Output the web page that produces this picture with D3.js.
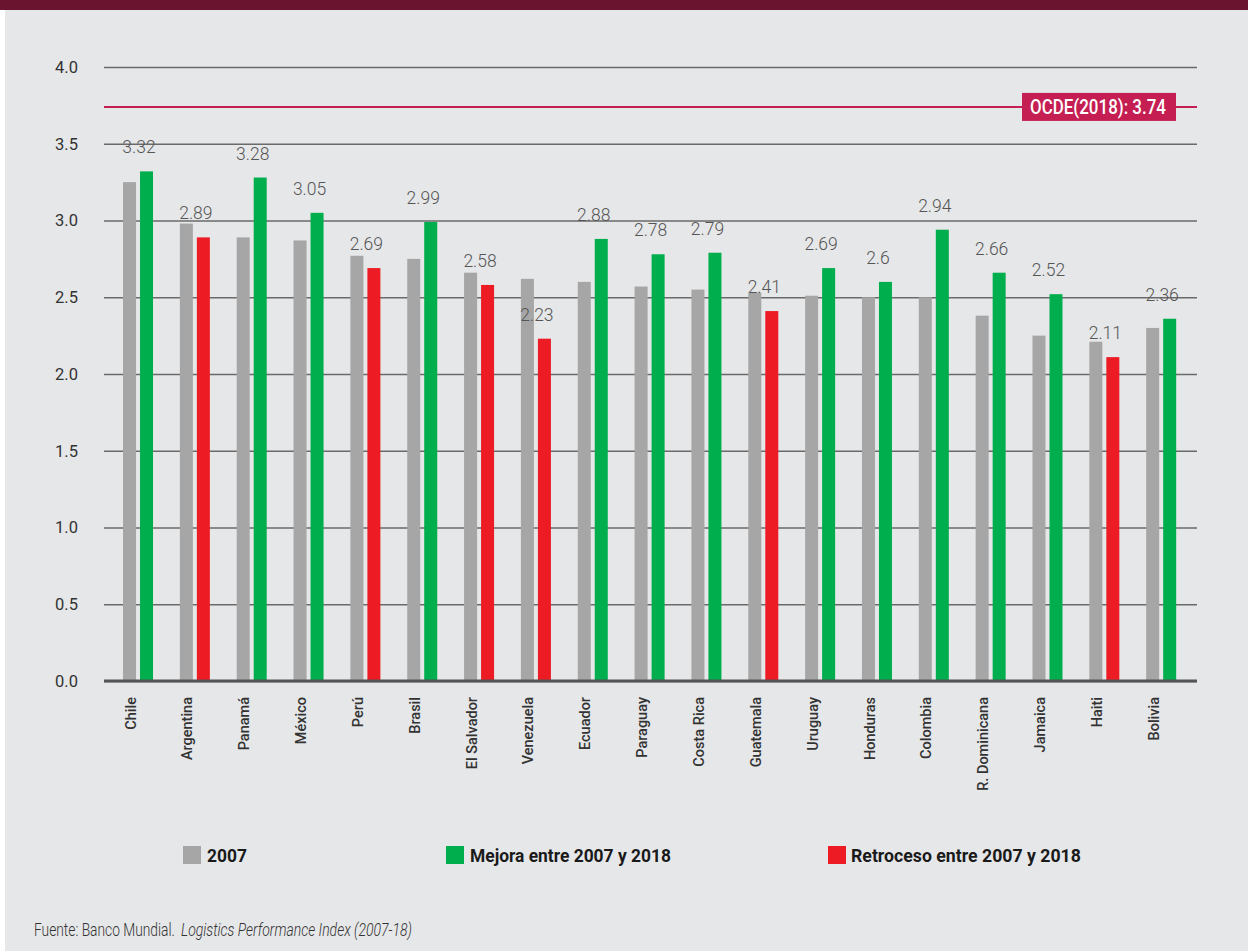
<!DOCTYPE html>
<html>
<head>
<meta charset="utf-8">
<script src="https://cdn.jsdelivr.net/npm/d3@7"></script>
<style>
  html, body { margin: 0; padding: 0; background: #ffffff; }
  svg { display: block; }
</style>
</head>
<body>
<svg id="chart" width="1248" height="951"></svg>
<script>
const countries = ["Chile", "Argentina", "Panamá", "México", "Perú", "Brasil", "El Salvador", "Venezuela", "Ecuador", "Paraguay", "Costa Rica", "Guatemala", "Uruguay", "Honduras", "Colombia", "R. Dominicana", "Jamaica", "Haiti", "Bolivia"];
const values2007 = [3.25, 2.98, 2.89, 2.87, 2.77, 2.75, 2.66, 2.62, 2.60, 2.57, 2.55, 2.53, 2.51, 2.50, 2.50, 2.38, 2.25, 2.21, 2.30];
const values2018 = [3.32, 2.89, 3.28, 3.05, 2.69, 2.99, 2.58, 2.23, 2.88, 2.78, 2.79, 2.41, 2.69, 2.6, 2.94, 2.66, 2.52, 2.11, 2.36];
const yTicks = [0, 0.5, 1.0, 1.5, 2.0, 2.5, 3.0, 3.5, 4.0];
const ocdeValue = 3.74;
const ocdeLabel = "OCDE(2018): 3.74";
const legendLabels = ["2007", "Mejora entre 2007 y 2018", "Retroceso entre 2007 y 2018"];
const sourcePlain = "Fuente: Banco Mundial.";
const sourceItalic = "Logistics Performance Index (2007-18)";

const C_BG = "#e6e7e9", C_TOP = "#6b1430", C_GRAY = "#a6a6a6", C_GREEN = "#00ae4d", C_RED = "#ed1c24", C_OCDE = "#c41e52";

const svg = d3.select("#chart");
svg.append("rect").attr("x", 5).attr("y", 0).attr("width", 1243).attr("height", 951).attr("fill", C_BG);
svg.append("rect").attr("x", 0).attr("y", 0).attr("width", 1248).attr("height", 10).attr("fill", C_TOP);

// condensed text helper: squeezes a text horizontally to a target width
function squeezed(parent, str, x0, y0, width, style) {
  const t = parent.append("text").attr("x", 0).attr("y", 0).text(str);
  Object.entries(style).forEach(([k, v]) => t.style(k, v));
  const natural = t.node().getComputedTextLength();
  const s = Math.min(1, width / natural);
  t.attr("transform", `translate(${x0},${y0}) scale(${s},1)`);
  return t;
}

const gridLeft = 104, gridRight = 1197;
const y = d3.scaleLinear().domain([0, 4]).range([681, 67]);
const x = d3.scaleBand().domain(countries).range([109.6, 1189.6]).paddingInner(0).paddingOuter(0);
const bw = x.bandwidth();
const center = c => x(c) + bw / 2;

// Y axis with gridlines
const yAxis = svg.append("g").attr("transform", `translate(${gridLeft},0)`)
  .call(d3.axisLeft(y).tickValues(yTicks).tickFormat(d3.format(".1f"))
    .tickSize(-(gridRight - gridLeft)).tickPadding(26));
yAxis.select(".domain").remove();
yAxis.selectAll(".tick line").attr("stroke", "#6a6a6a").attr("stroke-width", 1.5);
yAxis.selectAll(".tick text").attr("fill", "#333").style("font-family", "Roboto, sans-serif")
  .style("font-size", "16.5px").style("font-weight", 400);

// OCDE line
svg.append("line").attr("x1", gridLeft).attr("x2", gridRight)
  .attr("y1", y(ocdeValue)).attr("y2", y(ocdeValue))
  .attr("stroke", C_OCDE).attr("stroke-width", 2);

// Bars
const data = countries.map((c, i) => ({ c, a: values2007[i], b: values2018[i] }));
const gBars = svg.append("g");
gBars.selectAll("rect.g07").data(data).join("rect").attr("class", "g07")
  .attr("x", d => center(d.c) - 15).attr("width", 13)
  .attr("y", d => y(d.a)).attr("height", d => y(0) - y(d.a))
  .attr("fill", C_GRAY);
gBars.selectAll("rect.g18").data(data).join("rect").attr("class", "g18")
  .attr("x", d => center(d.c) + 2).attr("width", 13)
  .attr("y", d => y(d.b)).attr("height", d => y(0) - y(d.b))
  .attr("fill", d => d.b < d.a ? C_RED : C_GREEN);

// Value labels
svg.append("g").selectAll("text").data(data).join("text")
  .attr("x", d => center(d.c) + 1).attr("y", d => y(d.b) - 18)
  .attr("text-anchor", "middle").attr("fill", "#555")
  .style("font-family", "Roboto, sans-serif").style("font-size", "17.5px").style("font-weight", 300)
  .text(d => String(d.b));

// Baseline
svg.append("line").attr("x1", gridLeft).attr("x2", gridRight).attr("y1", y(0)).attr("y2", y(0))
  .attr("stroke", "#555").attr("stroke-width", 3);

// X axis
const xAxis = svg.append("g").attr("transform", `translate(0,${y(0)})`)
  .call(d3.axisBottom(x).tickSize(0).tickPadding(0));
xAxis.select(".domain").remove();
xAxis.selectAll(".tick text")
  .attr("x", 0).attr("y", 0).attr("dy", "0.35em")
  .attr("transform", "translate(-7.5,16) rotate(-90)")
  .attr("text-anchor", "end").attr("fill", "#333")
  .style("font-family", "Roboto, sans-serif").style("font-size", "14.5px").style("font-weight", 500);

// OCDE label
const oy = y(ocdeValue);
svg.append("rect").attr("x", 1022).attr("y", oy - 14).attr("width", 154).attr("height", 28).attr("fill", C_OCDE);
squeezed(svg, ocdeLabel, 1030, oy + 7.5, 136,
  { "font-family": "Roboto, sans-serif", "font-size": "21px", "font-weight": 500, "fill": "#fff" });

// Legend
const legendPos = [{ sx: 183, tx: 207, tl: 40, col: C_GRAY }, { sx: 446, tx: 470, tl: 201, col: C_GREEN }, { sx: 828, tx: 851, tl: 230, col: C_RED }];
const lg = svg.append("g");
legendLabels.forEach((t, i) => {
  const p = legendPos[i];
  lg.append("rect").attr("x", p.sx).attr("y", 846).attr("width", 18).attr("height", 18).attr("fill", p.col);
  squeezed(lg, t, p.tx, 862, p.tl,
    { "font-family": "Roboto, sans-serif", "font-size": "18.5px", "font-weight": 700, "fill": "#1a1a1a" });
});

// Source
const srcStyle = { "font-family": "Roboto, sans-serif", "font-size": "18px", "font-weight": 300, "fill": "#333" };
squeezed(svg, sourcePlain, 34, 936, 141, srcStyle);
squeezed(svg, sourceItalic, 181, 936, 231, Object.assign({}, srcStyle, { "font-style": "italic" }));
</script>
</body>
</html>
